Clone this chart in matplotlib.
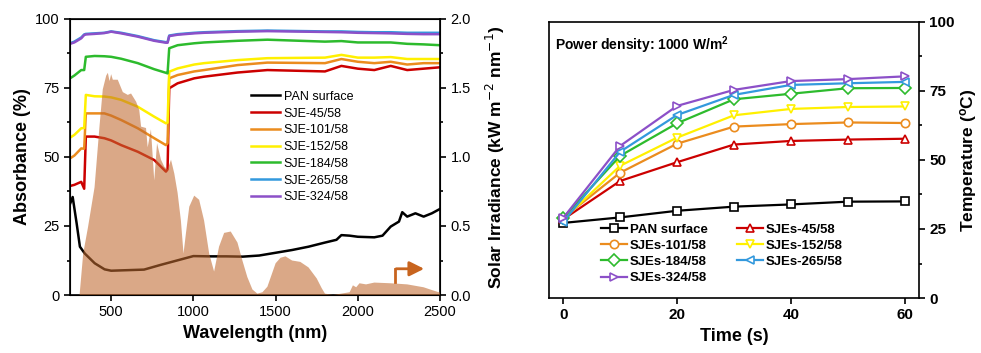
import numpy as np
import matplotlib
matplotlib.use("Agg")
import matplotlib.pyplot as plt
from matplotlib.ticker import MultipleLocator

plt.rcParams['font.family'] = ['Liberation Sans', 'DejaVu Sans']

# ---- left panel: absorbance spectra (wavelength nm, %) ----
wl_pan = [250, 266, 290, 310, 340, 400, 460, 500, 600, 700, 800, 900, 1000, 1100, 1200, 1300,
          1400, 1500, 1600, 1700, 1800, 1870, 1900, 1950, 2000, 2100, 2150, 2200, 2250, 2270,
          2300, 2350, 2400, 2450, 2500]
abs_pan = [33, 35.5, 26, 17.5, 15, 11.5, 9.3, 8.8, 9, 9.2, 10.9, 12.5, 14.1, 14, 14, 13.9,
           14.3, 15.3, 16.3, 17.5, 19, 20, 21.7, 21.5, 21.1, 20.9, 21.5, 24.8, 26.6, 30,
           28.4, 29.6, 28.4, 29.6, 31.2]

wl_sje = [250, 276, 318, 336, 346, 399, 459, 500, 561, 662, 762, 833, 843, 853, 904, 1005,
          1065, 1268, 1450, 1800, 1900, 2000, 2100, 2200, 2300, 2400, 2500]
abs_45 = [39.5, 39.9, 41, 38.5, 57.4, 57.4, 56.8, 56, 54.3, 51.9, 48.9, 44.7, 45.5, 74.9, 76.7,
          78.5, 79.1, 80.6, 81.5, 81, 83, 82, 81.5, 83, 81.5, 82, 82.5]
abs_101 = [49.5, 50.5, 53.1, 53, 65.8, 65.8, 65.8, 65, 63.4, 60.4, 56.8, 54.3, 55, 78.5, 79.7,
           81, 81.5, 83.3, 84.2, 84, 85.5, 84.5, 84, 84.5, 83.5, 84, 84]
abs_152 = [57, 58, 60.4, 60.5, 72.5, 72, 71.9, 71.6, 70.7, 68.2, 64.6, 62.2, 62.5, 80.9, 82.1,
           83.5, 84, 85.1, 85.8, 86, 87, 86, 86, 86.2, 85.5, 85.5, 85.5]
abs_184 = [78.5, 79.5, 81.5, 81.5, 86.3, 86.6, 86.5, 86.3, 85.6, 84, 81.8, 80.5, 80.3, 89.4, 90.5,
           91.2, 91.5, 92.1, 92.5, 91.8, 92, 91.5, 91.5, 91.5, 91, 90.8, 90.5]
abs_265 = [91.2, 91.8, 93.3, 94.4, 94.6, 94.8, 95, 95.5, 95, 93.8, 92.3, 91.6, 91.6, 94, 94.5,
           95, 95.2, 95.6, 95.8, 95.5, 95.5, 95.3, 95.2, 95.2, 95, 95, 95]
abs_324 = [91, 91.5, 93, 94.2, 94.4, 94.6, 94.9, 95.4, 94.8, 93.6, 92.1, 91.4, 91.4, 93.8, 94.3,
           94.8, 95, 95.4, 95.6, 95.3, 95.2, 95, 94.9, 94.8, 94.6, 94.5, 94.5]

# AM1.5 solar irradiance (kW m-2 nm-1)
wl_sun = [280, 308, 330, 359, 399, 429, 449, 470, 480, 490, 500, 510, 540, 571, 601, 621, 652,
          671, 682, 712, 722, 742, 762, 779, 803, 823, 843, 864, 884, 904, 924, 940, 955, 975,
          1005, 1035, 1065, 1096, 1126, 1156, 1187, 1227, 1268, 1298, 1328, 1359, 1389, 1420,
          1450, 1500, 1530, 1560, 1600, 1650, 1700, 1750, 1780, 1800, 1850, 1950, 1970, 1990,
          2010, 2050, 2100, 2200, 2300, 2400, 2450, 2500]
irr_sun = [0, 0, 0.3, 0.49, 0.78, 1.22, 1.49, 1.59, 1.61, 1.55, 1.6, 1.56, 1.56, 1.47, 1.45,
           1.46, 1.4, 1.34, 1.22, 1.21, 1.07, 1.2, 0.83, 1.1, 0.98, 0.93, 0.91, 0.98, 0.88, 0.74,
           0.54, 0.3, 0.45, 0.64, 0.72, 0.69, 0.54, 0.3, 0.17, 0.35, 0.45, 0.46, 0.38, 0.25,
           0.13, 0.04, 0.01, 0.02, 0.06, 0.23, 0.27, 0.28, 0.25, 0.24, 0.2, 0.12, 0.05, 0.01,
           0, 0.02, 0.07, 0.056, 0.085, 0.077, 0.09, 0.085, 0.077, 0.056, 0.036, 0.017]

abs_labels = ['PAN surface', 'SJE-45/58', 'SJE-101/58', 'SJE-152/58', 'SJE-184/58',
              'SJE-265/58', 'SJE-324/58']

# ---- right panel: temperature vs time ----
time_s = [0, 10, 20, 30, 40, 50, 60]
temp_pan = [27.2, 29.2, 31.6, 33.1, 33.9, 34.9, 35.0]
temp_45 = [28.5, 42.4, 49.2, 55.6, 56.9, 57.4, 57.7]
temp_101 = [29.0, 45.4, 55.9, 62.1, 63.0, 63.6, 63.4]
temp_152 = [28.5, 47.9, 58.1, 66.2, 68.5, 69.2, 69.4]
temp_184 = [29.0, 51.5, 63.3, 72.0, 74.0, 76.0, 76.1]
temp_265 = [27.5, 53.0, 66.3, 73.6, 77.2, 77.8, 78.3]
temp_324 = [29.0, 55.1, 69.6, 75.4, 78.6, 79.3, 80.3]
temp_labels = ['PAN surface', 'SJEs-45/58', 'SJEs-101/58', 'SJEs-152/58', 'SJEs-184/58',
               'SJEs-265/58', 'SJEs-324/58']

colors = ['black', '#cc0000', '#eb8c1e', '#fff000', '#2dbb2d', '#3399dd', '#8c50c8']
markers = ['s', '^', 'o', 'v', 'D', '<', '>']

fig = plt.figure(figsize=(9.81, 3.53), dpi=100)

# left panel
ax1 = fig.add_axes([0.0714, 0.1643, 0.3772, 0.7819])
abs_series = [(wl_pan, abs_pan), (wl_sje, abs_45), (wl_sje, abs_101), (wl_sje, abs_152),
              (wl_sje, abs_184), (wl_sje, abs_265), (wl_sje, abs_324)]
for (x, y), c, lab in zip(abs_series, colors, abs_labels):
    ax1.plot(x, y, color=c, lw=1.8, label=lab)
ax1.set_xlim(250, 2500)
ax1.set_ylim(0, 100)
ax1.xaxis.set_major_locator(MultipleLocator(500))
ax1.yaxis.set_major_locator(MultipleLocator(25))
ax1.yaxis.set_minor_locator(MultipleLocator(12.5))
ax1.tick_params(direction='out', labelsize=10.5, width=1.2, length=4)
ax1.tick_params(which='minor', direction='out', width=1.2, length=2.5)
ax1.set_xlabel('Wavelength (nm)', fontsize=13, fontweight='bold')
ax1.set_ylabel('Absorbance (%)', fontsize=13, fontweight='bold', labelpad=3)
for s in ax1.spines.values():
    s.set_linewidth(1.2)
ax1.legend(loc='upper left', bbox_to_anchor=(0.49, 0.74), frameon=False, fontsize=9,
           handlelength=2.3, handletextpad=0.3, labelspacing=0.38, borderpad=0,
           borderaxespad=0)

ax2 = ax1.twinx()
ax2.fill_between(wl_sun, irr_sun, 0, facecolor='#c06a30', alpha=0.58, lw=0)
ax2.set_ylim(0, 2.0)
ax2.yaxis.set_major_locator(MultipleLocator(0.5))
ax2.yaxis.set_minor_locator(MultipleLocator(0.25))
ax2.tick_params(direction='out', labelsize=10.5, width=1.2, length=4)
ax2.tick_params(which='minor', direction='out', width=1.2, length=2.5)
ax2.set_ylabel('Solar Irradiance (kW m$^{-2}$ nm$^{-1}$)', fontsize=12.5, fontweight='bold',
               labelpad=9)
ax2.plot([2225, 2225], [0.095, 0.19], color='#c8641e', lw=2)
ax2.annotate('', xy=(2420, 0.19), xytext=(2216, 0.19),
             arrowprops=dict(arrowstyle='-|>', color='#c8641e', lw=2, mutation_scale=22))

# right panel
ax3 = fig.add_axes([0.5596, 0.1558, 0.3772, 0.7819])
temp_series = [temp_pan, temp_45, temp_101, temp_152, temp_184, temp_265, temp_324]
handles = []
for y, c, m, lab in zip(temp_series, colors, markers, temp_labels):
    h, = ax3.plot(time_s, y, color=c, marker=m, markersize=6, markerfacecolor='white',
                  markeredgecolor=c, markeredgewidth=1.2, lw=1.6, label=lab)
    handles.append(h)
ax3.set_xlim(-2.5, 62.5)
ax3.set_ylim(0, 100)
ax3.xaxis.set_major_locator(MultipleLocator(20))
ax3.yaxis.tick_right()
ax3.yaxis.set_label_position('right')
ax3.yaxis.set_major_locator(MultipleLocator(25))
ax3.yaxis.set_minor_locator(MultipleLocator(12.5))
ax3.tick_params(direction='out', labelsize=11, width=1.2, length=4)
ax3.tick_params(which='minor', direction='out', width=1.2, length=2.5)
for lab in ax3.get_xticklabels() + ax3.get_yticklabels():
    lab.set_fontweight('bold')
ax3.set_xlabel('Time (s)', fontsize=13, fontweight='bold')
ax3.set_ylabel('Temperature ($\\mathregular{^o}$C)', fontsize=12.5, fontweight='bold',
               labelpad=2)
for s in ax3.spines.values():
    s.set_linewidth(1.2)
ax3.text(0.016, 0.955, 'Power density: 1000 W/m$\\mathregular{^2}$', transform=ax3.transAxes,
         ha='left', va='top', fontsize=10, fontweight='bold')
order = [0, 2, 4, 6, 1, 3, 5]
ax3.legend([handles[i] for i in order], [temp_labels[i] for i in order], ncol=2,
           loc='upper left', bbox_to_anchor=(0.14, 0.27), frameon=False,
           prop={'size': 9.5, 'weight': 'bold'}, handlelength=2.0, handletextpad=0.2,
           labelspacing=0.3, columnspacing=2.2, borderpad=0, borderaxespad=0)

fig.savefig('out.png', dpi=100)
